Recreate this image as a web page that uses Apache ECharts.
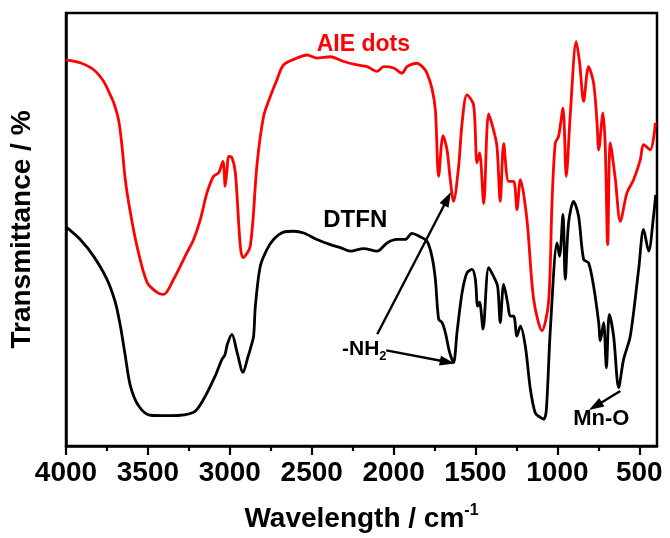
<!DOCTYPE html>
<html>
<head>
<meta charset="utf-8">
<script src="https://cdn.jsdelivr.net/npm/echarts@6/dist/echarts.min.js"></script>
<style>
  html, body { margin: 0; padding: 0; background: #fff; }
  #chart { width: 670px; height: 538px; }
</style>
</head>
<body>
<div id="chart"></div>
<script>
// FTIR spectra: wavenumber (cm-1) and relative transmittance (%)
const aieWavenumber = [4000, 3913, 3831, 3770, 3730, 3709, 3679, 3658, 3638, 3607, 3567, 3505, 3444, 3404, 3343, 3261, 3221, 3180, 3139, 3099, 3068, 3042, 3028, 3017, 3007, 2987, 2966, 2936, 2919, 2875, 2834, 2794, 2753, 2712, 2672, 2590, 2529, 2468, 2386, 2305, 2223, 2162, 2101, 2061, 2000, 1949, 1918, 1857, 1817, 1796, 1766, 1745, 1725, 1698, 1674, 1654, 1634, 1603, 1582, 1552, 1512, 1491, 1475, 1450, 1420, 1390, 1369, 1349, 1328, 1298, 1267, 1247, 1226, 1186, 1145, 1094, 1054, 1033, 1013, 993, 966, 946, 921, 885, 864, 840, 810, 779, 758, 748, 722, 708, 693, 677, 646, 616, 575, 535, 494, 474, 433, 402];
const aieTransmittance = [89.2, 88.5, 86.9, 84.2, 81.1, 79.3, 75.3, 69.2, 61.5, 53.9, 46.2, 37.8, 35.5, 35.0, 38.5, 44.7, 47.7, 52.3, 58.5, 62.3, 63.1, 65.7, 60.0, 63.8, 66.9, 66.6, 63.1, 46.2, 43.5, 46.2, 65.0, 76.1, 80.7, 84.6, 88.0, 89.6, 90.3, 89.6, 89.9, 88.8, 88.0, 87.6, 86.5, 87.6, 87.3, 86.1, 87.6, 88.4, 87.3, 86.1, 82.6, 77.6, 62.3, 71.7, 68.4, 61.5, 56.5, 64.6, 74.6, 81.1, 78.8, 65.4, 67.7, 56.0, 76.7, 73.0, 69.2, 56.5, 69.8, 61.1, 61.1, 54.6, 61.5, 52.3, 33.9, 26.6, 33.2, 56.2, 70.0, 71.5, 78.0, 62.3, 76.9, 93.4, 88.4, 79.6, 87.6, 83.8, 74.6, 68.4, 76.9, 69.2, 46.5, 70.0, 61.5, 51.9, 58.5, 61.5, 66.1, 69.6, 68.4, 74.6];

const dtfnWavenumber = [4000, 3913, 3831, 3750, 3699, 3668, 3638, 3607, 3557, 3485, 3363, 3221, 3160, 3089, 3048, 3030, 3015, 2987, 2956, 2919, 2890, 2875, 2855, 2844, 2814, 2773, 2733, 2672, 2610, 2549, 2468, 2386, 2325, 2264, 2183, 2101, 2040, 1979, 1929, 1888, 1847, 1796, 1766, 1745, 1725, 1704, 1684, 1658, 1634, 1613, 1582, 1552, 1521, 1501, 1487, 1475, 1454, 1420, 1390, 1365, 1349, 1328, 1304, 1288, 1267, 1247, 1226, 1196, 1165, 1135, 1104, 1084, 1068, 1043, 1002, 987, 966, 952, 932, 901, 871, 840, 810, 779, 748, 738, 718, 701, 683, 657, 626, 596, 555, 504, 474, 443, 413, 400];
const dtfnTransmittance = [50.6, 47.7, 43.8, 38.5, 33.2, 27.7, 20.8, 13.9, 9.3, 7.1, 7.0, 7.8, 10.8, 16.2, 20.0, 21.0, 23.5, 25.8, 21.7, 17.0, 20.5, 22.4, 25.3, 32.3, 41.5, 45.4, 47.7, 49.4, 49.6, 49.2, 47.7, 46.5, 45.8, 45.0, 45.6, 45.0, 46.9, 47.7, 47.7, 49.1, 48.5, 47.3, 43.8, 38.5, 29.3, 28.5, 26.2, 21.6, 19.3, 26.2, 35.4, 40.0, 40.8, 38.5, 32.3, 33.2, 27.0, 41.2, 39.2, 36.9, 28.5, 37.3, 33.1, 30.0, 30.0, 25.4, 27.7, 23.1, 13.1, 7.6, 6.6, 6.2, 8.1, 27.0, 46.9, 43.8, 53.5, 38.5, 51.5, 56.5, 53.1, 43.1, 42.3, 36.9, 28.5, 24.3, 28.5, 18.1, 30.4, 25.4, 13.5, 20.0, 25.4, 40.8, 50.0, 45.0, 53.1, 58.0];

// Axis ticks (cm-1)
const majorTicks = [500, 1000, 1500, 2000, 2500, 3000, 3500, 4000];
const minorTicks = [750, 1250, 1750, 2250, 2750, 3250, 3750];

// Band assignments: arrow start/end in (cm-1, %)
const nh2ArrowRed = [[2100, 25.8], [1671, 57.1]];
const nh2ArrowBlack = [[2045, 22.1], [1672, 19.4]];
const mnoArrow = [[616, 12.7], [768, 9.2]];

// Text annotations in (cm-1, %)
const aieLabelPos = [2185, 92.6];
const dtfnLabelPos = [2234, 52.1];
const nh2LabelPos = [2179, 22.4];
const mnoLabelPos = [732, 6.2];

const FONT = 'Liberation Sans, Arial, Helvetica, sans-serif';

function pairs(xs, ys) { return xs.map((x, i) => [x, ys[i]]); }

function textPoint(pos, text, color, size) {
  return {
    coord: pos,
    symbol: 'circle',
    symbolSize: 0,
    label: {
      show: true,
      position: 'inside',
      formatter: text,
      color: color,
      fontFamily: FONT,
      fontWeight: 'bold',
      fontSize: size,
      rich: {
        sub: { fontFamily: FONT, fontWeight: 'bold', fontSize: 13, color: color, padding: [14, 0, 0, 0] }
      }
    }
  };
}

const chart = echarts.init(document.getElementById('chart'), null, { renderer: 'canvas' });

chart.setOption({
  animation: false,
  backgroundColor: '#fff',
  grid: {
    left: 66, right: 13, top: 13, bottom: 91,
    show: true, borderColor: '#000', borderWidth: 2.5, backgroundColor: 'transparent'
  },
  xAxis: [
    {
      type: 'value', min: 392, max: 4000, inverse: true, position: 'bottom',
      name: 'Wavelength / cm{sup|-1}',
      nameLocation: 'middle', nameGap: 57,
      nameTextStyle: {
        fontFamily: FONT, fontWeight: 'bold', fontSize: 28, color: '#000',
        rich: { sup: { fontFamily: FONT, fontWeight: 'bold', fontSize: 16, color: '#000', padding: [0, 0, 16, 0] } }
      },
      axisLine: { show: true, lineStyle: { color: '#000', width: 2.5 } },
      axisTick: { show: true, customValues: majorTicks, length: 9, lineStyle: { color: '#000', width: 2.2 } },
      axisLabel: {
        show: true, customValues: majorTicks, margin: 13,
        formatter: v => String(v),
        fontFamily: FONT, fontWeight: 'bold', fontSize: 28, color: '#000'
      },
      splitLine: { show: false }
    },
    {
      // minor ticks between the labelled ones
      type: 'value', min: 392, max: 4000, inverse: true, position: 'bottom', offset: 0,
      axisLine: { show: true, lineStyle: { color: '#000', width: 0, opacity: 0 } },
      axisTick: { show: true, customValues: minorTicks, length: 5, lineStyle: { color: '#000', width: 2.2 } },
      axisLabel: { show: false },
      splitLine: { show: false }
    }
  ],
  yAxis: {
    type: 'value', min: 0, max: 100,
    name: 'Transmittance / %',
    nameLocation: 'middle', nameGap: 30, nameRotate: 90,
    nameTextStyle: { fontFamily: FONT, fontWeight: 'bold', fontSize: 28, color: '#000' },
    axisLine: { show: true, lineStyle: { color: '#000', width: 2.5 } },
    axisTick: { show: false },
    axisLabel: { show: false },
    splitLine: { show: false }
  },
  series: [
    {
      name: 'AIE dots',
      type: 'line',
      xAxisIndex: 0,
      data: pairs(aieWavenumber, aieTransmittance),
      showSymbol: false,
      smooth: 0.3,
      lineStyle: { color: '#ff0000', width: 2.8 },
      markPoint: { silent: true, data: [textPoint(aieLabelPos, 'AIE dots', '#ff0000', 23)] }
    },
    {
      name: 'DTFN',
      type: 'line',
      xAxisIndex: 0,
      data: pairs(dtfnWavenumber, dtfnTransmittance),
      showSymbol: false,
      smooth: 0.3,
      lineStyle: { color: '#000', width: 2.8 },
      markPoint: {
        silent: true,
        data: [
          textPoint(dtfnLabelPos, 'DTFN', '#000', 24),
          textPoint(nh2LabelPos, '-NH{sub|2}', '#000', 21),
          textPoint(mnoLabelPos, 'Mn-O', '#000', 22)
        ]
      },
      markLine: {
        silent: true,
        symbol: ['none', 'triangle'],
        symbolSize: [10, 15],
        label: { show: false },
        lineStyle: { color: '#000', width: 2.4, type: 'solid' },
        data: [nh2ArrowRed, nh2ArrowBlack, mnoArrow].map(a => [{ coord: a[0] }, { coord: a[1] }])
      }
    }
  ]
});
</script>
</body>
</html>
